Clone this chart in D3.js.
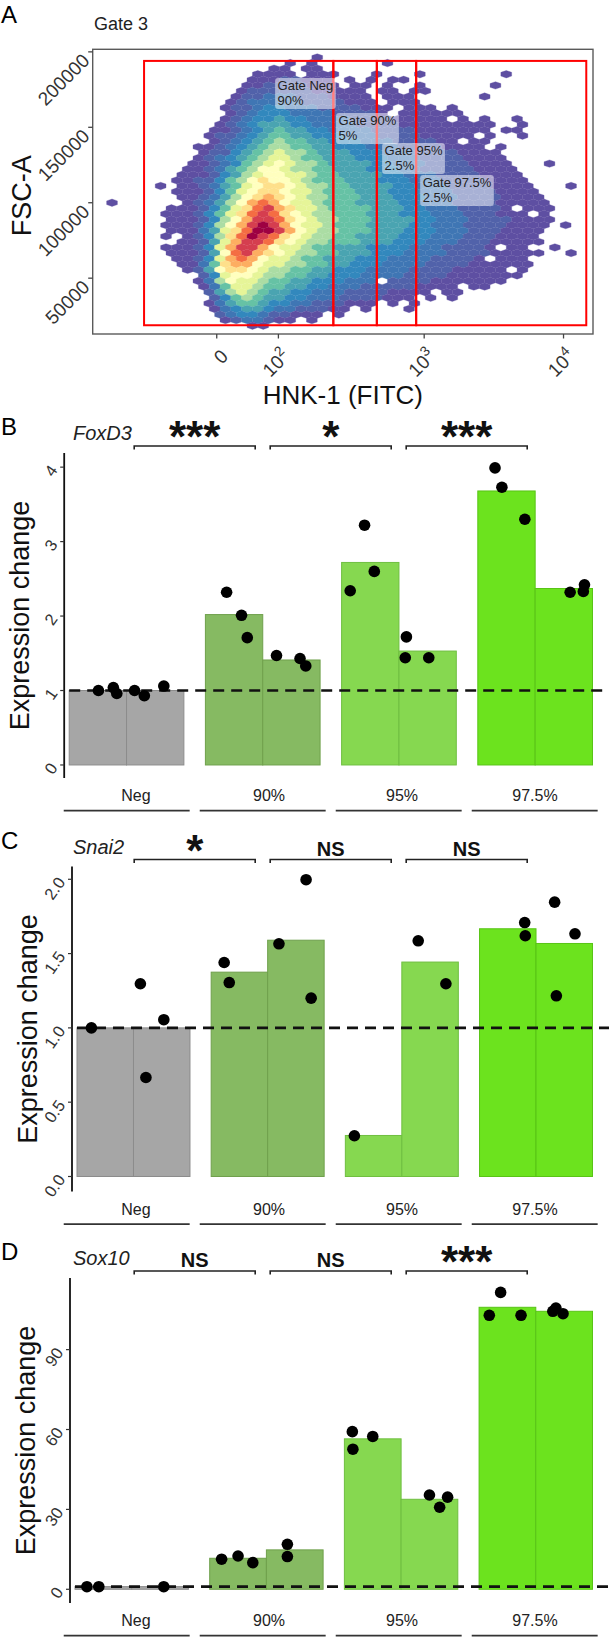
<!DOCTYPE html>
<html>
<head>
<meta charset="utf-8">
<script src="https://cdn.jsdelivr.net/npm/d3@7"></script>
<style>
body { margin: 0; background: #fff; }
text { font-family: 'Liberation Sans', Arial, sans-serif; }
</style>
</head>
<body>
<div class="content"></div>
<script>
// ---------- panel A : hexbin density, one string per hex row (start column | levels)
const hexRows = [
  "0|",
  "21|1",
  "18|1.1......1",
  "17|11.11",
  "15|1111.111...1...1.......1",
  "15|11122111.1.1.11",
  "14|112222111.11.1..1......1",
  "14|122222211111.11.11",
  "13|1223332221111.111......1",
  "13|12333332222111.111",
  "12|1223443332222111.111.1",
  "13|123444333322221.111111",
  "12|123445443333222211111.1.1..1",
  "12|12345554433332222111111111..1",
  "11|11234565544333322221111111.11",
  "11|1223456655444333222211111.1..1",
  "11|12345676655444333222211.11",
  "10|112345677665544433322221111.1",
  "10|1224567877655544433322221111",
  "10|12345678876655544433322221111",
  "9|112346789877655554433322221111...1",
  "9|1123567998776655544433222221111",
  "8|11124578998876655554433322221111",
  "8|11224679a998766655544433322221111",
  "6|1.11235689aa98776655554433322221111...1",
  "8|11124689aa988766655544433322221111",
  "8|1123579aba987766655544433322221111",
  "2|1......123579bcb9887666555544333222211111",
  "7|1112468acdba88766665554433322221.111",
  "7|1112468acdca9877666555444333222111.1",
  "7|1112479bddca987766655554433322221111",
  "7|1112479bdedb988766655554433322221111.1",
  "7|111358aceedb98776665554443332221111",
  "7|1.1247acedca98776655554443332221111",
  "8|11258bddca987766655544433322211111",
  "7|111248bddb988766555444433322221.11..1",
  "7|111259cdba9877665554443333222211111..1",
  "8|11248bcb988766555444333322221.111",
  "8|1136abb98877665544433332222111111",
  "9|1259aa987766554443333222211111.1",
  "10|248998776655444333322221111111",
  "10|13798876655444333.22221111111",
  "10|136887665544333222221111.11",
  "11|257876554433322221111.11",
  "11|2467655443332222111.1.1",
  "11|1356654433222111.1.1",
  "11|1345543322211.1...1",
  "12|2344322111.1",
  "12|1233211.1",
  "15|11"
]
const hexLevelChars = '123456789abcde'
const hexColors = ['#5E4FA2', '#5162AA', '#3F76B4', '#3288BD', '#4AA4B1', '#66C2A5', '#ABDDA4',
  '#E6F598', '#FFFFBF', '#FEE08B', '#FDAE61', '#F46D43', '#D53E4F', '#9E0142']
const hexX0 = -0.883
const hexDx = 0.0755
const hexY0 = 200000
const hexDy = 3704

const xTicksA = [0, 0.431, 1.45, 2.424]
const xTickBase = ['0', '10', '10', '10']
const xTickExp = ['', '2', '3', '4']
const yTicksA = [50000, 100000, 150000, 200000]

const gateNames = ['Gate Neg', 'Gate 90%', 'Gate 95%', 'Gate 97.5%']
const gatePercents = ['90%', '5%', '2.5%', '2.5%']
const gateEdges = [-0.508, 0.815, 1.119, 1.394, 2.583]
const gateFsc = [18800, 194000]
const gateLabelX = [0.408, 0.834, 1.156, 1.422]
const gateLabelY = [182700, 159500, 139600, 118400]

// ---------- panels B-D : qPCR bars
const groups = ['Neg', '90%', '95%', '97.5%']
const barFill = ['#A6A6A6', '#86BA62', '#86D850', '#6CE31E']
const barStroke = ['#8C8C8C', '#6FA04C', '#6FBF40', '#58C416']

const foxd3Means = [1.0, 1.0, 2.02, 1.41, 2.72, 1.53, 3.68, 2.37]
const foxd3Points = [
  [0, 1.0, 0.01], [0, 1.04, 0.27], [0, 0.96, 0.33],
  [1, 1.0, -0.36], [1, 0.93, -0.19], [1, 1.06, 0.15],
  [2, 2.32, -0.13], [2, 2.01, 0.13], [2, 1.71, 0.23],
  [3, 1.47, -0.26], [3, 1.43, 0.15], [3, 1.33, 0.25],
  [4, 3.22, -0.10], [4, 2.34, -0.35], [4, 2.60, 0.07],
  [5, 1.72, -0.37], [5, 1.44, -0.39], [5, 1.44, 0.02],
  [6, 3.99, -0.20], [6, 3.73, -0.08], [6, 3.30, 0.32],
  [7, 2.32, 0.11], [7, 2.33, 0.34], [7, 2.42, 0.36]
]
const foxd3Sig = ['***', '*', '***']

const snai2Means = [1.0, 1.0, 1.375, 1.59, 0.276, 1.443, 1.667, 1.568]
const snai2Points = [
  [0, 1.0, -0.245],
  [1, 1.297, -0.378], [1, 1.055, 0.037], [1, 0.666, -0.28],
  [2, 1.44, -0.27], [2, 1.305, -0.18],
  [3, 1.566, -0.30], [3, 1.997, 0.18], [3, 1.20, 0.27],
  [4, 0.274, -0.34],
  [5, 1.586, -0.21], [5, 1.297, 0.28],
  [6, 1.709, 0.30], [6, 1.62, 0.31],
  [7, 1.846, -0.17], [7, 1.633, 0.19], [7, 1.216, -0.14]
]
const snai2Sig = ['*', 'NS', 'NS']

const sox10Means = [1.0, 1.0, 11.65, 14.8, 56.5, 33.8, 105.9, 104.4]
const sox10Points = [
  [0, 0.98, -0.29], [0, 0.98, -0.08],
  [1, 0.98, 0.065],
  [2, 11.3, -0.29], [2, 12.5, 0.0], [2, 10.0, 0.26],
  [3, 16.9, -0.13], [3, 12.3, -0.13],
  [4, 59.2, -0.36], [4, 57.4, 0.0], [4, 52.6, -0.35],
  [5, 35.4, 0.0], [5, 34.6, 0.32], [5, 30.8, 0.18],
  [6, 111.5, -0.12], [6, 102.9, -0.32], [6, 102.9, 0.24],
  [7, 104.4, -0.2], [7, 105.6, -0.145], [7, 103.5, -0.02]
]
const sox10Sig = ['NS', 'NS', '***']

const width = 609
const height = 1640

const svg = d3.select('div.content')
  .append('svg')
  .attr('width', width)
  .attr('height', height)

// ================= Panel A =================
const plotA = { left: 92.7, right: 593, top: 49.3, bottom: 334 }
const xA = d3.scaleLinear().domain([-0.867, 2.63]).range([plotA.left, plotA.right])
const yA = d3.scaleLinear().domain([13000, 201700]).range([plotA.bottom, plotA.top])
const hexColor = d3.scaleOrdinal().domain(d3.range(hexColors.length)).range(hexColors)

svg.append('text').attr('x', 1).attr('y', 23).attr('font-size', 24).text('A')
svg.append('text').attr('x', 94).attr('y', 30).attr('font-size', 18).attr('fill', '#222').text('Gate 3')

svg.append('defs').append('clipPath').attr('id', 'clipA')
  .append('rect')
  .attr('x', plotA.left).attr('y', plotA.top)
  .attr('width', plotA.right - plotA.left).attr('height', plotA.bottom - plotA.top)

const hexCells = []
hexRows.forEach((row, r) => {
  const [start, levels] = row.split('|')
  levels.split('').forEach((ch, k) => {
    if (ch === '.') return
    const col = +start + k
    hexCells.push({
      x: hexX0 + (col + (r % 2 === 0 ? 0.5 : 0)) * hexDx,
      y: hexY0 - r * hexDy,
      level: hexLevelChars.indexOf(ch)
    })
  })
})

const hw = (xA(hexDx) - xA(0)) / 2
const hr = (yA(0) - yA(hexDy)) / 1.5
const hexPath = d3.line()([[0, -hr], [hw, -hr / 2], [hw, hr / 2], [0, hr], [-hw, hr / 2], [-hw, -hr / 2]]) + 'Z'

svg.append('g')
  .attr('clip-path', 'url(#clipA)')
  .selectAll('path')
  .data(hexCells)
  .join('path')
  .attr('d', hexPath)
  .attr('transform', d => `translate(${xA(d.x)},${yA(d.y)})`)
  .attr('fill', d => hexColor(d.level))
  .attr('stroke', d => hexColor(d.level))
  .attr('stroke-width', 0.3)

// gates
svg.append('g')
  .selectAll('rect')
  .data(gateNames)
  .join('rect')
  .attr('x', (d, i) => xA(gateEdges[i]))
  .attr('width', (d, i) => xA(gateEdges[i + 1]) - xA(gateEdges[i]))
  .attr('y', yA(gateFsc[1]))
  .attr('height', yA(gateFsc[0]) - yA(gateFsc[1]))
  .attr('fill', 'none')
  .attr('stroke', '#FF0000')
  .attr('stroke-width', 2)

// gate labels
gateNames.forEach((name, i) => {
  const g = svg.append('g').attr('transform', `translate(${xA(gateLabelX[i])},${yA(gateLabelY[i])})`)
  const box = g.append('rect').attr('rx', 3).attr('fill', 'white').attr('fill-opacity', 0.5)
  const t1 = g.append('text').attr('x', 2.5).attr('y', 12).attr('font-size', 13).attr('fill', '#222').text(name)
  const t2 = g.append('text').attr('x', 2.5).attr('y', 27).attr('font-size', 13).attr('fill', '#222').text(gatePercents[i])
  const w = Math.max(t1.node().getComputedTextLength(), t2.node().getComputedTextLength())
  box.attr('width', w + 5).attr('height', 31)
})

// frame
svg.append('rect')
  .attr('x', plotA.left).attr('y', plotA.top)
  .attr('width', plotA.right - plotA.left).attr('height', plotA.bottom - plotA.top)
  .attr('fill', 'none').attr('stroke', '#5a5a5a').attr('stroke-width', 1.4)

// x axis A
const xAxisA = svg.append('g')
xAxisA.selectAll('line')
  .data(xTicksA)
  .join('line')
  .attr('x1', d => xA(d)).attr('x2', d => xA(d))
  .attr('y1', plotA.bottom).attr('y2', plotA.bottom + 4.5)
  .attr('stroke', '#444').attr('stroke-width', 1.3)
xTicksA.forEach((v, i) => {
  const t = xAxisA.append('text')
    .attr('transform', `translate(${xA(v) + 12.6},${plotA.bottom + 23.5}) rotate(-45)`)
    .attr('text-anchor', 'end')
    .attr('font-size', 19)
    .attr('fill', '#333')
  t.append('tspan').text(xTickBase[i])
  if (xTickExp[i]) t.append('tspan').attr('dy', -8).attr('font-size', 14).text(xTickExp[i])
})

// y axis A
const yAxisA = svg.append('g')
yAxisA.selectAll('line')
  .data(yTicksA)
  .join('line')
  .attr('x1', plotA.left - 4.5).attr('x2', plotA.left)
  .attr('y1', d => yA(d)).attr('y2', d => yA(d))
  .attr('stroke', '#444').attr('stroke-width', 1.3)
yAxisA.selectAll('text')
  .data(yTicksA)
  .join('text')
  .attr('transform', d => `translate(${plotA.left - 2},${yA(d) + 10}) rotate(-45)`)
  .attr('text-anchor', 'end')
  .attr('font-size', 19)
  .attr('fill', '#333')
  .text(d => d)

svg.append('text')
  .attr('x', (plotA.left + plotA.right) / 2).attr('y', 404)
  .attr('text-anchor', 'middle').attr('font-size', 26).attr('fill', '#111')
  .text('HNK-1 (FITC)')
svg.append('text')
  .attr('transform', `translate(31,${(plotA.top + plotA.bottom) / 2 + 4}) rotate(-90)`)
  .attr('text-anchor', 'middle').attr('font-size', 27).attr('fill', '#111')
  .text('FSC-A')

// ================= Panels B-D =================
const panelHeight = 325
const barsRight = 592.5

// annotation scales shared by all three panels (brackets, group rules, group names)
const annScale = d3.scaleBand().domain(groups).range([58.7, 602.7]).paddingInner(0.074).paddingOuter(0.037)
const labelScale = d3.scaleBand().domain(groups).range([69.5, 601.5])

const panels = [
  { letter: 'B', gene: 'FoxD3', top: 453, axisX: 64.2, yDomain: [-0.175, 4.19], ticks: [0, 1, 2, 3, 4], fmt: d3.format('d'), means: foxd3Means, points: foxd3Points, sig: foxd3Sig },
  { letter: 'C', gene: 'Snai2', top: 866.5, axisX: 72, yDomain: [-0.101, 2.086], ticks: [0, 0.5, 1, 1.5, 2], fmt: d3.format('.1f'), means: snai2Means, points: snai2Points, sig: snai2Sig },
  { letter: 'D', gene: 'Sox10', top: 1278, axisX: 70, yDomain: [-5.15, 116.9], ticks: [0, 30, 60, 90], fmt: d3.format('d'), means: sox10Means, points: sox10Points, sig: sox10Sig }
]

panels.forEach(drawPanel)

function drawPanel(p) {
  const g = svg.append('g')
  const top = p.top
  const bottom = top + panelHeight
  const barsLeft = p.axisX + 5

  const y = d3.scaleLinear().domain(p.yDomain).range([bottom, top])
  const xGroup = d3.scaleBand().domain(groups).range([barsLeft, barsRight]).paddingInner(0.158).paddingOuter(0)
  const xSub = d3.scaleBand().domain([0, 1]).range([0, xGroup.bandwidth()])

  // titles
  g.append('text').attr('x', 1).attr('y', top - 18).attr('font-size', 24).text(p.letter)
  g.append('text').attr('x', 73).attr('y', top - 13).attr('font-size', 20)
    .attr('font-style', 'italic').attr('fill', '#222').text(p.gene)

  // significance brackets
  const by = top - 7
  p.sig.forEach((s, i) => {
    const x1 = annScale(groups[i]) + annScale.bandwidth() / 2 + 7.5
    const x2 = annScale(groups[i + 1]) + annScale.bandwidth() / 2 - 7.5
    g.append('path')
      .attr('d', `M${x1},${by + 3.5}V${by}H${x2}V${by + 3.5}`)
      .attr('fill', 'none').attr('stroke', '#222').attr('stroke-width', 1.6)
    const stars = s !== 'NS'
    g.append('text')
      .attr('x', (x1 + x2) / 2)
      .attr('y', stars ? top - 1 : top - 11)
      .attr('text-anchor', 'middle')
      .attr('font-weight', 'bold')
      .attr('font-size', stars ? 44 : 20)
      .attr('fill', '#111')
      .text(s)
  })

  // bars
  g.append('g')
    .selectAll('rect')
    .data(p.means)
    .join('rect')
    .attr('x', (d, i) => xGroup(groups[Math.floor(i / 2)]) + xSub(i % 2))
    .attr('width', xSub.bandwidth())
    .attr('y', d => y(d))
    .attr('height', d => y(0) - y(d))
    .attr('fill', (d, i) => barFill[Math.floor(i / 2)])
    .attr('stroke', (d, i) => barStroke[Math.floor(i / 2)])
    .attr('stroke-width', 1)

  // reference line
  g.append('line')
    .attr('x1', barsLeft).attr('x2', width)
    .attr('y1', y(1)).attr('y2', y(1))
    .attr('stroke', '#111').attr('stroke-width', 2.6)
    .attr('stroke-dasharray', '11,7')

  // points
  g.append('g')
    .selectAll('circle')
    .data(p.points)
    .join('circle')
    .attr('cx', d => xGroup(groups[Math.floor(d[0] / 2)]) + xSub(d[0] % 2) + (0.5 + d[2]) * xSub.bandwidth())
    .attr('cy', d => y(d[1]))
    .attr('r', 5.8)
    .attr('fill', '#000')

  // y axis
  g.append('line')
    .attr('x1', p.axisX).attr('x2', p.axisX)
    .attr('y1', top).attr('y2', bottom)
    .attr('stroke', '#111').attr('stroke-width', 1.8)
  g.append('g')
    .selectAll('line')
    .data(p.ticks)
    .join('line')
    .attr('x1', p.axisX - 4).attr('x2', p.axisX)
    .attr('y1', d => y(d)).attr('y2', d => y(d))
    .attr('stroke', '#333').attr('stroke-width', 1.2)
  g.append('g')
    .selectAll('text')
    .data(p.ticks)
    .join('text')
    .attr('transform', d => `translate(${p.axisX - 6},${y(d) + 3}) rotate(-55)`)
    .attr('text-anchor', 'end')
    .attr('font-size', 16.5)
    .attr('fill', '#333')
    .text(d => p.fmt(d))

  g.append('text')
    .attr('transform', `translate(${p.axisX - 35},${(top + bottom) / 2}) rotate(-90)`)
    .attr('text-anchor', 'middle')
    .attr('font-size', 27)
    .attr('fill', '#111')
    .text('Expression change')

  // group names and rules below
  g.append('g')
    .selectAll('text')
    .data(groups)
    .join('text')
    .attr('x', d => labelScale(d) + labelScale.bandwidth() / 2)
    .attr('y', top + 348)
    .attr('text-anchor', 'middle')
    .attr('font-size', 16)
    .attr('fill', '#222')
    .text(d => d)
  g.append('g')
    .selectAll('line')
    .data(groups)
    .join('line')
    .attr('x1', d => annScale(d)).attr('x2', d => annScale(d) + annScale.bandwidth())
    .attr('y1', top + 357.7).attr('y2', top + 357.7)
    .attr('stroke', '#333').attr('stroke-width', 1.8)
}
</script>
</body>
</html>
